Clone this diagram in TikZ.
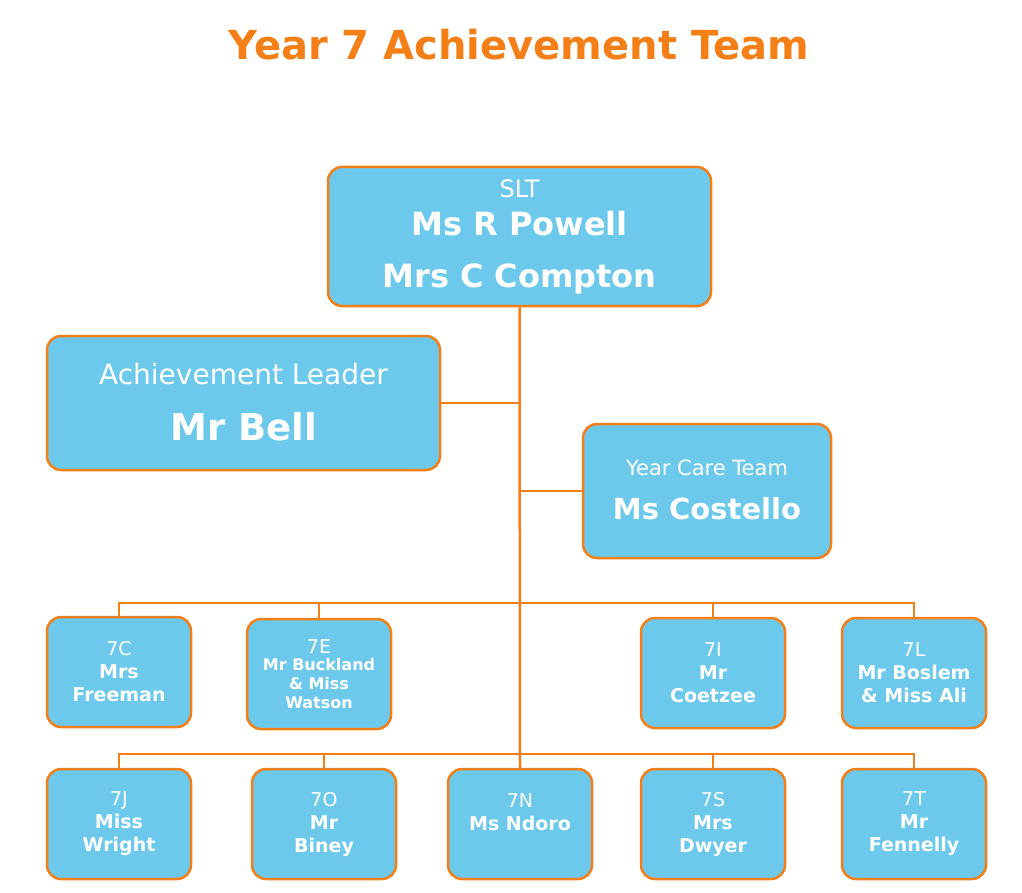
\documentclass[tikz,border=0pt]{standalone}
\usepackage{fontspec}
\setmainfont{DejaVu Sans}
\definecolor{org}{HTML}{F57F17}
\definecolor{blu}{HTML}{6CC9EC}
\begin{document}
\begin{tikzpicture}[x=1pt,y=-1pt,
 box/.style={draw=org,fill=blu,line width=2.5pt,rounded corners=14pt,text=white,align=center,inner sep=0pt},
 ln/.style={draw=org,line width=2.5pt}]
\useasboundingbox (0,0) rectangle (1022,893);
\node[text=org,font=\fontsize{40}{44}\selectfont\bfseries] (title) at (519,45) {Year 7 Achievement Team};
\node[box,minimum width=383pt,minimum height=139pt] (slt) at (519.5,236.5) {};
\node[text=white,font=\fontsize{24}{28}\selectfont] at (519.5,189) {SLT};
\node[text=white,font=\fontsize{32}{36}\selectfont\bfseries] at (519.5,224) {Ms R Powell};
\node[text=white,font=\fontsize{32}{36}\selectfont\bfseries] at (519.5,279) {Mrs C Compton};
\node[box,minimum width=393pt,minimum height=134pt] (al) at (243.5,403) {};
\node[text=white,font=\fontsize{28}{32}\selectfont] at (243.5,374) {Achievement Leader};
\node[text=white,font=\fontsize{37}{40}\selectfont\bfseries] at (243.5,427) {Mr Bell};
\node[box,minimum width=248pt,minimum height=134pt] (yc) at (707,491) {};
\node[text=white,font=\fontsize{21}{25}\selectfont] at (707,468) {Year Care Team};
\node[text=white,font=\fontsize{29}{33}\selectfont\bfseries] at (707,509) {Ms Costello};
\tikzset{sm/.style={box,minimum width=144pt,minimum height=110pt,font=\fontsize{19}{23}\selectfont}}
\node[sm] (c) at (119,672) {7C\\\textbf{Mrs}\\\textbf{Freeman}};
\node[sm,font=\fontsize{19}{19}\selectfont] (e) at (319,674) {7E\\[-2pt]{\fontsize{16}{19}\selectfont\bfseries Mr Buckland}\\{\fontsize{16}{19}\selectfont\bfseries \& Miss}\\{\fontsize{16}{19}\selectfont\bfseries Watson}};
\node[sm] (i) at (713,673) {7I\\\textbf{Mr}\\\textbf{Coetzee}};
\node[sm] (l) at (914,673) {7L\\\textbf{Mr Boslem}\\\textbf{\& Miss Ali}};
\node[sm] (j) at (119,824) {7J\\\textbf{Miss}\\\textbf{Wright}};
\node[sm] (o) at (324,824) {7O\\\textbf{Mr}\\\textbf{Biney}};
\node[sm] (n) at (520,824) {7N\\\textbf{Ms Ndoro}\\\phantom{X}};
\node[sm] (s) at (713,824) {7S\\\textbf{Mrs}\\\textbf{Dwyer}};
\node[sm] (t) at (914,824) {7T\\\textbf{Mr}\\\textbf{Fennelly}};
\coordinate (b1) at (520,603);
\coordinate (b2) at (520,754);
\draw[ln] (slt.south) -- (n.north);
\draw[ln] (al.east) -- (520,403);
\draw[ln] (yc.west) -- (520,491);
\draw[ln] (c.north) |- (b1) -| (l.north);
\draw[ln] (e.north) |- (b1);
\draw[ln] (i.north) |- (b1);
\draw[ln] (j.north) |- (b2) -| (t.north);
\draw[ln] (o.north) |- (b2);
\draw[ln] (s.north) |- (b2);
\end{tikzpicture}
\end{document}
